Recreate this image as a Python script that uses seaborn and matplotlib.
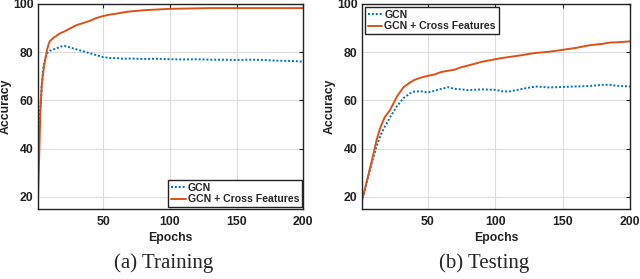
import matplotlib.pyplot as plt
import seaborn as sns
import pandas as pd

# training curves
train_epochs = [1, 2, 3, 4, 5, 6, 7, 8, 9, 10, 12, 15, 18, 21, 25, 30, 35, 40, 45, 50,
                55, 60, 65, 70, 80, 90, 100, 110, 120, 130, 140, 150, 160, 170, 180, 190, 200]
train_gcn = [41, 50, 57, 66, 73, 76, 78, 79.5, 80.2, 80.6, 81, 81.6, 82.3, 82.6, 82, 81.2,
             80.4, 79.6, 78.8, 78, 77.6, 77.6, 77.3, 77.4, 77.2, 77.3, 77.1, 77, 77.1, 76.9,
             76.9, 76.8, 76.9, 76.8, 76.5, 76.4, 76.1]
train_cross = [15, 35, 55, 66, 71, 75, 78, 81, 83, 84.5, 85.6, 86.8, 87.9, 88.6, 89.8, 91.2,
               92.1, 93, 94.2, 95, 95.6, 96, 96.5, 96.9, 97.4, 97.7, 98, 98.1, 98.2, 98.3,
               98.3, 98.3, 98.3, 98.3, 98.3, 98.3, 98.3]

# testing curves
test_epochs = [1, 3, 5, 7, 10, 12, 15, 18, 22, 27, 32, 37, 40, 45, 50, 55, 60, 65, 70, 75,
               80, 90, 100, 105, 110, 115, 120, 125, 130, 140, 150, 160, 170, 180, 185, 190, 200]
test_gcn = [18, 22, 26.5, 31, 37, 41, 45.5, 49, 53, 57.5, 61, 63, 63.7, 63.8, 63.3, 64, 64.8,
            65.5, 64.8, 64.6, 64.3, 64.6, 64.4, 63.8, 63.7, 64.2, 64.8, 65.3, 65.8, 65.4,
            65.6, 65.8, 66, 66.5, 66.5, 66.1, 65.8]
test_cross = [18, 22.5, 27, 31.5, 38.5, 43.5, 49, 53, 56, 61.5, 65.5, 67.5, 68.5, 69.5, 70.2,
              70.8, 71.8, 72.3, 72.8, 73.8, 74.5, 76, 77.1, 77.6, 78, 78.4, 78.8, 79.3, 79.7,
              80.2, 81, 81.8, 82.9, 83.5, 84, 84.1, 84.5]

labels = ['GCN', 'GCN + Cross Features']
captions = ['(a) Training', '(b) Testing']
blue = '#0072BD'
orange = '#D95319'

sns.set_theme(style='white')
plt.rcParams['font.family'] = ['Liberation Sans', 'DejaVu Sans']
plt.rcParams['font.weight'] = 'bold'

fig = plt.figure(figsize=(6.4, 2.79), dpi=100)
ax1 = fig.add_axes([37.7 / 640, 70 / 279, 265.6 / 640, 205 / 279])
ax2 = fig.add_axes([361.7 / 640, 70 / 279, 268.3 / 640, 205 / 279])

panels = [
    (ax1, train_epochs, train_gcn, train_cross, 'lower right', (0.995, 0.01)),
    (ax2, test_epochs, test_gcn, test_cross, 'upper left', (0.012, 0.985)),
]

for ax, ep, gcn, cross, loc, anchor in panels:
    df_g = pd.DataFrame({'epoch': ep, 'acc': gcn})
    df_c = pd.DataFrame({'epoch': ep, 'acc': cross})
    sns.lineplot(data=df_g, x='epoch', y='acc', ax=ax, color=blue, lw=1.4,
                 linestyle=(0, (1, 1)), label=labels[0])
    sns.lineplot(data=df_c, x='epoch', y='acc', ax=ax, color=orange, lw=1.4,
                 label=labels[1])
    ax.set_xlim(1, 200)
    ax.set_ylim(15, 100)
    ax.set_xticks([50, 100, 150, 200])
    ax.set_yticks([20, 40, 60, 80, 100])
    ax.grid(True, color='#dcdcdc', lw=0.8)
    ax.tick_params(direction='in', length=3, width=0.8, top=True, right=True,
                   labelsize=8.8, colors='#222222')
    ax.tick_params(axis='x', pad=5)
    ax.tick_params(axis='y', pad=3)
    for lab in ax.get_xticklabels() + ax.get_yticklabels():
        lab.set_fontweight('bold')
    for s in ax.spines.values():
        s.set_color('#222222')
        s.set_linewidth(1.0)
    ax.set_xlabel('Epochs', fontsize=8.8, fontweight='bold', labelpad=3, color='#222222')
    ax.set_ylabel('Accuracy', fontsize=8.8, fontweight='bold', labelpad=1, color='#222222')
    leg = ax.legend(loc=loc, bbox_to_anchor=anchor, fontsize=7.6, frameon=True,
                    fancybox=False, edgecolor='#222222', framealpha=1, borderpad=0.25,
                    labelspacing=0.15, handlelength=1.4, handletextpad=0.2,
                    borderaxespad=0)
    leg.get_frame().set_linewidth(1.0)
    for t in leg.get_texts():
        t.set_fontweight('bold')

fig.text(164 / 640, 1 - 263 / 279, captions[0], ha='center', va='center', fontsize=15,
         family='Liberation Serif', fontweight='normal')
fig.text(484 / 640, 1 - 263 / 279, captions[1], ha='center', va='center', fontsize=15,
         family='Liberation Serif', fontweight='normal')

fig.savefig('out.png', dpi=100)
